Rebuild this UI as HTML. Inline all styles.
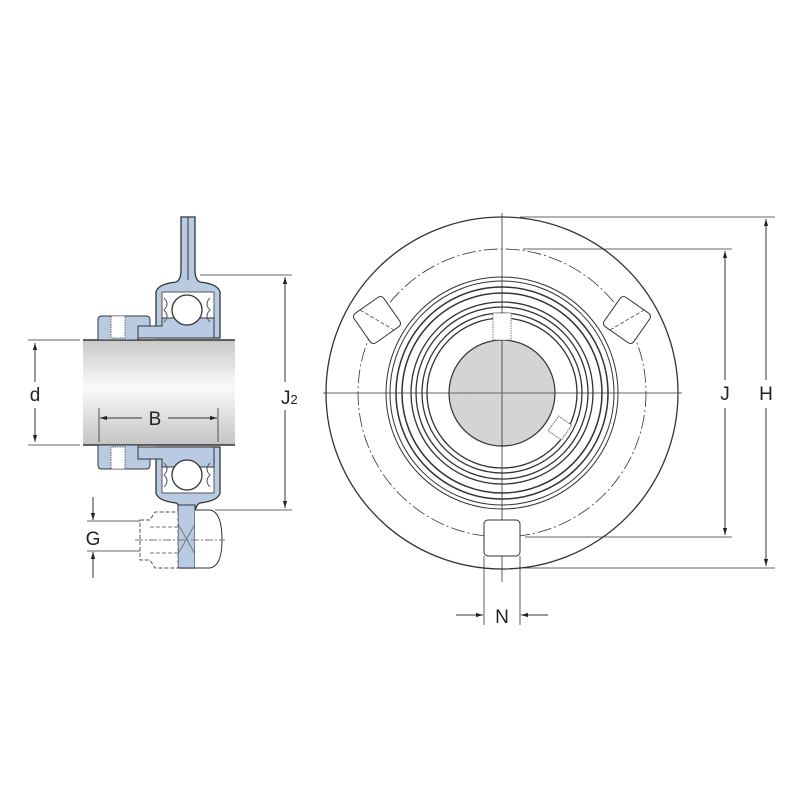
<!DOCTYPE html>
<html><head><style>html,body{margin:0;padding:0;background:#fff}svg{display:block}text{font-family:"Liberation Sans",sans-serif;font-size:19px;fill:#222}</style></head>
<body>
<svg width="800" height="800" viewBox="0 0 800 800" xmlns="http://www.w3.org/2000/svg">
<defs>
<linearGradient id="sh" x1="0" y1="0" x2="0" y2="1">
<stop offset="0" stop-color="#c8c8c8"/><stop offset="0.45" stop-color="#fafafa"/><stop offset="1" stop-color="#c4c4c4"/>
</linearGradient>
<marker id="ar" viewBox="0 0 10 10" refX="10" refY="5" markerWidth="9" markerHeight="7" orient="auto-start-reverse"><path d="M0,2 L10,5 L0,8 z" fill="#222"/></marker>
</defs>
<g stroke="#333" stroke-width="1" fill="none">
<rect x="83" y="340" width="152" height="105" fill="url(#sh)" stroke="none"/>
<line x1="83" y1="340" x2="235" y2="340" stroke-width="1.5"/>
<line x1="83" y1="445" x2="235" y2="445" stroke-width="1.5"/>
<g id="top">
<path d="M156,338 V292 Q158,284 176,282 Q181,280 181,270 V217 H195 V270 Q195,280 200,282 Q218,284 220,292 V338 Z" fill="#b9cbe3" stroke-width="1.3"/>
<line x1="188" y1="217" x2="188" y2="280"/>
<rect x="162" y="292" width="52" height="36" fill="#fff" stroke="#555"/>
<path d="M138,338 V326 H162 V318 H214 V338 Z" fill="#b9cbe3"/>
<path d="M98,340 V320 Q98,316 102,316 H146 Q150,316 150,320 V326 H138 V340 Z" fill="#b9cbe3"/>
<rect x="111" y="316" width="14" height="22" fill="#fff" stroke="#666" stroke-dasharray="1.5,1"/>
<circle cx="187" cy="310" r="15" fill="#fff" stroke-width="1.3"/>
<path d="M164,298 q6,6 0,12 q6,6 0,12 M210,298 q-6,6 0,12 q-6,6 0,12" stroke="#555"/>
</g>
<use href="#top" transform="matrix(1,0,0,-1,0,785)"/>
<rect x="178" y="505" width="17" height="63" fill="#b9cbe3"/>
<path d="M195,510 H210 Q222,512 222,540 Q222,566 210,568 H195" fill="#fff"/>
<path d="M140,520 H150 L155,512 H178 V568 H155 L150,560 H140 Z" stroke="#555" stroke-dasharray="4,2" fill="#fff"/>
<line x1="150" y1="527" x2="178" y2="527" stroke="#777" stroke-dasharray="4,2"/>
<line x1="150" y1="553" x2="178" y2="553" stroke="#777" stroke-dasharray="4,2"/>
<line x1="178" y1="524" x2="195" y2="554" stroke="#777"/><line x1="178" y1="554" x2="195" y2="524" stroke="#777"/>
<line x1="135" y1="540" x2="225" y2="540" stroke="#777" stroke-dasharray="8,2,2,2"/>
<line x1="28" y1="340" x2="80" y2="340" stroke-width="0.8"/>
<line x1="28" y1="445" x2="80" y2="445" stroke-width="0.8"/>
<line x1="35" y1="343" x2="35" y2="382" marker-start="url(#ar)"/>
<line x1="35" y1="408" x2="35" y2="442" marker-end="url(#ar)"/>
<line x1="99" y1="408" x2="99" y2="442" stroke-width="0.8"/>
<line x1="218" y1="408" x2="218" y2="442" stroke-width="0.8"/>
<line x1="100" y1="418" x2="142" y2="418" marker-start="url(#ar)"/>
<line x1="168" y1="418" x2="217" y2="418" marker-end="url(#ar)"/>
<line x1="200" y1="275" x2="292" y2="275" stroke-width="0.8"/>
<line x1="215" y1="510" x2="292" y2="510" stroke-width="0.8"/>
<line x1="285" y1="277" x2="285" y2="382" marker-start="url(#ar)"/>
<line x1="285" y1="410" x2="285" y2="508" marker-end="url(#ar)"/>
<line x1="87" y1="521" x2="140" y2="521" stroke-width="0.8"/>
<line x1="87" y1="551" x2="140" y2="551" stroke-width="0.8"/>
<line x1="93" y1="497" x2="93" y2="520" marker-end="url(#ar)"/>
<line x1="93" y1="578" x2="93" y2="552" marker-end="url(#ar)"/>
<circle cx="502" cy="393" r="176" stroke-width="1.3"/>
<circle cx="502" cy="393" r="144" stroke-width="0.8" stroke-dasharray="14,3,2,3"/>
<circle cx="502" cy="393" r="116"/><circle cx="502" cy="393" r="112"/>
<circle cx="502" cy="393" r="106" stroke-width="1.5"/><circle cx="502" cy="393" r="100" stroke-width="1.5"/>
<circle cx="502" cy="393" r="91" stroke-width="1.3"/><circle cx="502" cy="393" r="86" stroke-width="1.3"/>
<circle cx="502" cy="393" r="80" stroke-width="1.3"/><circle cx="502" cy="393" r="75" stroke-width="1.3"/>
<circle cx="502" cy="393" r="53" fill="#d4d4d4" stroke-width="1.2"/>
<line x1="323" y1="393" x2="682" y2="393" stroke-width="0.8"/>
<line x1="502" y1="213" x2="502" y2="582" stroke-width="0.8"/>
<line x1="450" y1="393" x2="555" y2="393" stroke="#666" stroke-dasharray="14,3,2,3"/>
<rect x="493" y="313" width="18" height="27" fill="#fff" stroke="#777" stroke-dasharray="1.5,1"/>
<g transform="rotate(-55 560 428)"><rect x="551" y="420" width="18" height="16" fill="#fff" stroke="#666" stroke-dasharray="1.5,1"/></g>
<rect x="484" y="520" width="36" height="36" rx="4" fill="#fff"/>
<g transform="rotate(-35 377 320)"><rect x="359" y="302" width="36" height="36" rx="4" fill="#fff"/></g>
<g transform="rotate(35 627 320)"><rect x="609" y="302" width="36" height="36" rx="4" fill="#fff"/></g>
<line x1="360" y1="310" x2="394" y2="330" stroke-dasharray="4,2" stroke-width="0.7"/>
<line x1="610" y1="330" x2="644" y2="310" stroke-dasharray="4,2" stroke-width="0.7"/>
<line x1="520" y1="217" x2="775" y2="217" stroke-width="0.8"/>
<line x1="523" y1="249" x2="732" y2="249" stroke-width="0.8"/>
<line x1="525" y1="537" x2="732" y2="537" stroke-width="0.8"/>
<line x1="525" y1="568" x2="775" y2="568" stroke-width="0.8"/>
<line x1="725" y1="251" x2="725" y2="380" marker-start="url(#ar)"/>
<line x1="725" y1="408" x2="725" y2="535" marker-end="url(#ar)"/>
<line x1="766" y1="219" x2="766" y2="380" marker-start="url(#ar)"/>
<line x1="766" y1="408" x2="766" y2="566" marker-end="url(#ar)"/>
<line x1="484" y1="556" x2="484" y2="625" stroke-width="0.8"/>
<line x1="520" y1="556" x2="520" y2="625" stroke-width="0.8"/>
<line x1="456" y1="615" x2="483" y2="615" marker-end="url(#ar)"/>
<line x1="548" y1="615" x2="521" y2="615" marker-end="url(#ar)"/>
</g>
<text x="35" y="401" text-anchor="middle">d</text>
<text x="155" y="425" text-anchor="middle">B</text>
<text x="281" y="404">J<tspan font-size="13">2</tspan></text>
<text x="93" y="545" text-anchor="middle">G</text>
<text x="725" y="400" text-anchor="middle">J</text>
<text x="766" y="400" text-anchor="middle">H</text>
<text x="502" y="623" text-anchor="middle">N</text>
</svg>
</body></html>
